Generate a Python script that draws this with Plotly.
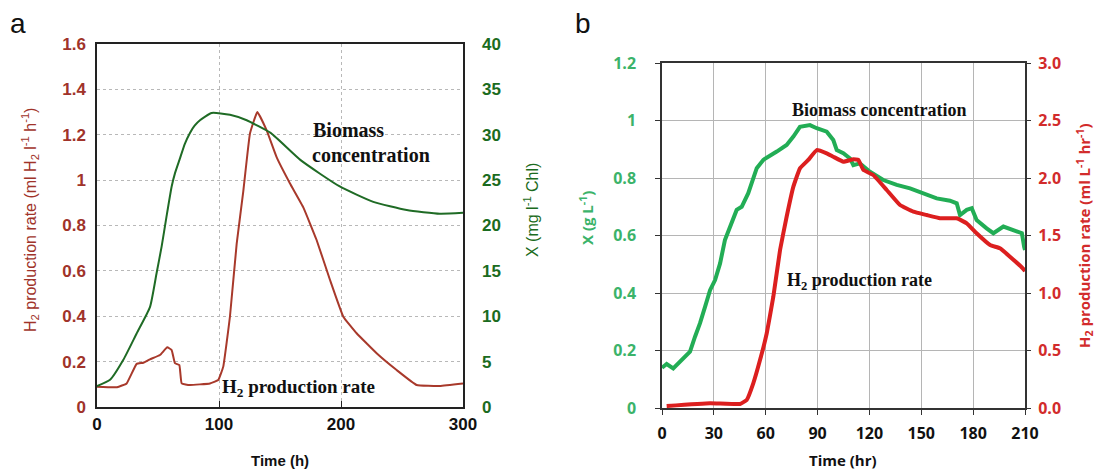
import plotly.graph_objects as go

# ---------------- Panel a data ----------------
a_time_bio = [0, 10.7, 21.6, 32.5, 43.4, 48.9, 53, 57, 61.2, 64, 68, 72, 76.2, 80, 84.4,
              94, 109, 122.7, 142.3, 166.9, 199, 226.5, 253.9, 281, 300]
a_biomass = [2.3, 3.0, 5.2, 8.1, 11.0, 14.8, 17.7, 21.0, 24.3, 25.8, 27.4, 29.0, 30.2,
             31.0, 31.6, 32.4, 32.2, 31.6, 30.2, 27.2, 24.3, 22.6, 21.7, 21.3, 21.4]

a_time_h2 = [0, 16.4, 24.3, 32.5, 38, 43.4, 51.6, 57.6, 61.2, 63.9, 67.5, 69.4, 76, 92.6,
             99.4, 103.5, 109, 114.5, 119.9, 125.4, 131.4, 139, 147.3, 158.2, 169.1,
             180, 191, 201.9, 212.8, 229.2, 245.6, 262, 281, 300]
a_h2 = [0.089, 0.087, 0.104, 0.19, 0.195, 0.21, 0.229, 0.263, 0.251, 0.193, 0.185, 0.104,
        0.097, 0.104, 0.119, 0.178, 0.40, 0.72, 0.95, 1.206, 1.30, 1.22, 1.10, 0.985,
        0.88, 0.736, 0.56, 0.398, 0.325, 0.237, 0.163, 0.097, 0.093, 0.104]

a_x_ticks = [0, 100, 200, 300]

# ---------------- Panel b data ----------------
b_time_bio = [0, 0.8, 2.7, 6.5, 10.4, 16.2, 19.1, 22, 24.9, 27.8, 30.7, 33.6, 36.4, 39.3,
              43.2, 46.1, 49.9, 54.8, 58.6, 66.4, 72.1, 76, 79.8, 85.6, 89.5, 95.3, 99.1,
              101.1, 104.9, 108.8, 110.7, 114.5, 120.3, 128, 135.8, 143.5, 151.2, 158.9,
              166.6, 170.5, 172.4, 176.3, 179.2, 182, 187.8, 191.7, 197.5, 203.3, 208.2,
              209.5, 210]
b_biomass = [0.14, 0.144, 0.153, 0.138, 0.161, 0.196, 0.248, 0.295, 0.352, 0.41, 0.445,
             0.503, 0.584, 0.625, 0.689, 0.70, 0.747, 0.834, 0.863, 0.892, 0.915, 0.944,
             0.978, 0.984, 0.973, 0.961, 0.932, 0.897, 0.886, 0.868, 0.845, 0.851, 0.822,
             0.793, 0.776, 0.764, 0.747, 0.729, 0.721, 0.712, 0.671, 0.689, 0.695, 0.654,
             0.625, 0.608, 0.631, 0.619, 0.608, 0.561, 0.55]

b_time_h2 = [2.7, 27.8, 45.1, 49, 52.8, 56.7, 60.6, 64.4, 68.3, 72.1, 76, 79.8, 84.6, 89.5,
             95.3, 99.1, 104.9, 110.7, 113.6, 116.5, 122.2, 130, 137.7, 145.4, 153.1,
             160.8, 170.5, 176.3, 182, 189.8, 195.5, 201.3, 208.7, 210]
b_h2 = [0.017, 0.041, 0.035, 0.07, 0.215, 0.417, 0.65, 0.968, 1.374, 1.663, 1.925, 2.084,
        2.157, 2.243, 2.214, 2.185, 2.142, 2.163, 2.157, 2.07, 2.026, 1.896, 1.765, 1.707,
        1.678, 1.65, 1.65, 1.606, 1.519, 1.417, 1.389, 1.316, 1.215, 1.19]

b_x_ticks = [0, 30, 60, 90, 120, 150, 180, 210]

# ---------------- colours ----------------
A_RED = "#a8392b"
A_GREEN = "#1f6b25"
A_RED_TXT = "#a0332a"
A_GREEN_TXT = "#1b6b20"
B_GREEN = "#22ad55"
B_RED = "#dc1f1f"
B_GREEN_TXT = "#3bb36a"
B_RED_TXT = "#d22b2b"

W, H = 1099, 471


def px(x):
    return x / W


def py(y):
    return 1 - y / H


fig = go.Figure()

fig.add_trace(go.Scatter(x=a_time_bio, y=a_biomass, mode="lines", yaxis="y2", xaxis="x",
                         line=dict(color=A_GREEN, width=2, shape="spline", smoothing=0.5),
                         name="Biomass"))
fig.add_trace(go.Scatter(x=a_time_h2, y=a_h2, mode="lines", yaxis="y", xaxis="x",
                         line=dict(color=A_RED, width=2, shape="spline", smoothing=0.3),
                         name="H2"))
fig.add_trace(go.Scatter(x=b_time_bio, y=b_biomass, mode="lines", yaxis="y3", xaxis="x2",
                         line=dict(color=B_GREEN, width=4), name="Biomass b"))
fig.add_trace(go.Scatter(x=b_time_h2, y=b_h2, mode="lines", yaxis="y4", xaxis="x2",
                         line=dict(color=B_RED, width=4, shape="spline", smoothing=0.3),
                         name="H2 b"))

tick_a = dict(family="Liberation Sans, Arial", size=17, weight="bold")
tick_b = dict(family="Open Sans, Arial", size=16, weight="bold")

dom_ax = [px(97), px(463)]
dom_ay = [py(407), py(44)]
dom_bx = [px(662), px(1025)]
dom_by = [py(408), py(63)]

fig.update_layout(
    width=W, height=H,
    margin=dict(l=0, r=0, t=0, b=0),
    paper_bgcolor="white", plot_bgcolor="white",
    showlegend=False,
    xaxis=dict(domain=dom_ax, range=[0, 300], tickvals=a_x_ticks, anchor="y",
               showline=True, linecolor="#222", linewidth=1.5, mirror=True,
               showgrid=True, gridcolor="#b8b8b8", griddash="dot", gridwidth=1,
               ticks="inside", ticklen=6, tickcolor="#222",
               tickfont=dict(color="#111", **tick_a), ticklabelstandoff=1,
               zeroline=False, automargin=False),
    yaxis=dict(domain=dom_ay, range=[0, 1.6], dtick=0.2, anchor="x",
               showline=True, linecolor="#222", linewidth=1.5, mirror=True,
               showgrid=True, gridcolor="#b8b8b8", griddash="dot", gridwidth=1,
               ticks="", tickfont=dict(color=A_RED_TXT, **tick_a), ticklabelstandoff=6,
               zeroline=False, automargin=False),
    yaxis2=dict(domain=dom_ay, range=[0, 40], dtick=5, anchor="x", overlaying="y",
                side="right", showgrid=False, showline=False, ticks="",
                tickfont=dict(color=A_GREEN_TXT, **tick_a), ticklabelstandoff=18,
                zeroline=False, automargin=False),
    xaxis2=dict(domain=dom_bx, range=[0, 210], tickvals=b_x_ticks, anchor="y3",
                showline=True, linecolor="#333", linewidth=1.5, mirror=True,
                showgrid=True, gridcolor="#b5b5b5", gridwidth=1,
                ticks="outside", ticklen=5, tickcolor="#333",
                tickfont=dict(color="#111", **tick_b), ticklabelstandoff=5,
                zeroline=False, automargin=False),
    yaxis3=dict(domain=dom_by, range=[0, 1.2], dtick=0.2, anchor="x2",
                showline=True, linecolor="#333", linewidth=1.5, mirror=True,
                showgrid=True, gridcolor="#b5b5b5", gridwidth=1,
                ticks="outside", ticklen=5, tickcolor="#333",
                tickfont=dict(color=B_GREEN_TXT, **tick_b), ticklabelstandoff=16,
                zeroline=False, automargin=False),
    yaxis4=dict(domain=dom_by, range=[0, 3.0], dtick=0.5, tickformat=".1f", anchor="x2",
                overlaying="y3", side="right", showgrid=False, showline=False,
                ticks="outside", ticklen=5, tickcolor="#333",
                tickfont=dict(color=B_RED_TXT, **tick_b), ticklabelstandoff=4,
                zeroline=False, automargin=False),
)

ann = []
# Panel letters
ann.append(dict(text="a", x=px(18), y=py(24), font=dict(family="Liberation Sans, Arial", size=28, color="#111")))
ann.append(dict(text="b", x=px(583), y=py(24), font=dict(family="Liberation Sans, Arial", size=28, color="#111")))
# Axis titles panel a
ann.append(dict(text="H<sub>2</sub> production rate (ml H<sub>2</sub> l<sup>-1</sup> h<sup>-1</sup>)",
                x=px(30), y=py(220), textangle=-90,
                font=dict(family="Liberation Sans, Arial", size=16, color=A_RED_TXT)))
ann.append(dict(text="X (mg l<sup>-1</sup> Chl)", x=px(531), y=py(210), textangle=-90,
                font=dict(family="Liberation Sans, Arial", size=16, color=A_GREEN_TXT)))
ann.append(dict(text="Time (h)", x=px(280), y=py(460),
                font=dict(family="Liberation Sans, Arial", size=15, color="#111", weight="bold")))
# Axis titles panel b
ann.append(dict(text="X (g L<sup>-1</sup>)", x=px(586), y=py(218), textangle=-90,
                font=dict(family="Open Sans, Arial", size=15, color=B_GREEN_TXT, weight="bold")))
ann.append(dict(text="H<sub>2</sub> production rate (ml L<sup>-1</sup> hr<sup>-1</sup>)",
                x=px(1084), y=py(236), textangle=-90,
                font=dict(family="Open Sans, Arial", size=15, color=B_RED_TXT, weight="bold")))
ann.append(dict(text="Time (hr)", x=px(843), y=py(460),
                font=dict(family="Open Sans, Arial", size=15, color="#111", weight="bold")))
# In-plot labels
serif = "Liberation Serif, Times New Roman"
ann.append(dict(text="Biomass", x=px(311), y=py(130), xanchor="left",
                font=dict(family=serif, size=20, color="#111", weight="bold")))
ann.append(dict(text="concentration", x=px(310), y=py(155), xanchor="left",
                font=dict(family=serif, size=20, color="#111", weight="bold")))
ann.append(dict(text="H<sub>2</sub> production rate", x=px(220), y=py(388), xanchor="left",
                font=dict(family=serif, size=19, color="#111", weight="bold")))
ann.append(dict(text="Biomass concentration", x=px(790), y=py(110), xanchor="left",
                font=dict(family=serif, size=18, color="#111", weight="bold")))
ann.append(dict(text="H<sub>2</sub> production rate", x=px(785), y=py(281), xanchor="left",
                font=dict(family=serif, size=18, color="#111", weight="bold")))

for a in ann:
    a.setdefault("xanchor", "center")
    a.update(xref="paper", yref="paper", yanchor="middle", showarrow=False)
fig.update_layout(annotations=ann)

fig.write_html("out.html", config={"displayModeBar": False},
               post_script="document.body.style.margin='0';document.body.style.overflow='hidden';")
